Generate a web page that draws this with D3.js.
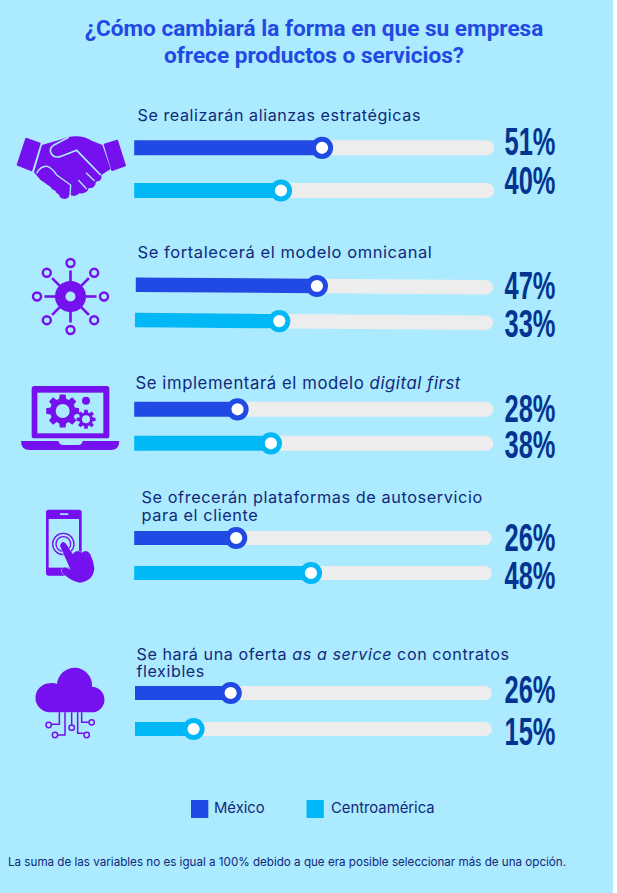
<!DOCTYPE html>
<html><head><meta charset="utf-8">
<script src="https://cdn.jsdelivr.net/npm/d3@7"></script>
<style>html,body{margin:0;padding:0;background:#fff;overflow:hidden}svg{display:block}</style>
</head><body><div id="chart"></div>
<script>
// ---- data ----
const titleLines = ["¿Cómo cambiará la forma en que su empresa", "ofrece productos o servicios?"];
const categories = [
  [["Se realizarán alianzas estratégicas", false]],
  [["Se fortalecerá el modelo omnicanal", false]],
  [["Se implementará el modelo ", false], ["digital first", true]],
  [["Se ofrecerán plataformas de autoservicio", false], ["\npara el cliente", false]],
  [["Se hará una oferta ", false], ["as a service", true], [" con contratos", false], ["\nflexibles", false]]
];
const seriesNames = ["México", "Centroamérica"];
const mexicoLabels = [51, 47, 28, 26, 26];
const centroLabels = [40, 33, 38, 48, 15];
// slider lengths as drawn in the picture (percent of the track)
const mexicoDrawn = [52.2, 50.7, 28.8, 28.5, 26.8];
const centroDrawn = [40.8, 40.3, 38.1, 49.4, 16.4];
const footnote = "La suma de las variables no es igual a 100% debido a que era posible seleccionar más de una opción.";

// ---- style and layout ----
const W = 617, H = 893, panelW = 613;
const BG = "#ABEAFF", BLUE = "#2149E3", CYAN = "#00B8F5", TRACK = "#EDEDED",
      PURPLE = "#7510EE", INK = "#10297A", PCT = "#033491";
const colors = [BLUE, CYAN];
const rows = [
  {x0:[134.2,134.2],x1:[494,494],yL:[147.8,190.5],yR:[147.8,190.5],ly:[120.5],lx:137.5,py:[155,194],h:15,fs:16.1},
  {x0:[135.8,135],x1:[493,493],yL:[284.7,320],yR:[287.3,322.7],ly:[258.3],lx:137.5,py:[299.3,337.3],h:14.5,fs:16.5},
  {x0:[134.2,134.2],x1:[493,493],yL:[409.3,443.3],yR:[409.3,443.3],ly:[389.3],lx:135.5,py:[422.3,457.7],h:15,fs:16.7},
  {x0:[134.2,134.2],x1:[492,492],yL:[538,573],yR:[538,573],ly:[502.7,520.7],lx:141.5,py:[551,589],h:14,fs:16.3},
  {x0:[135,135],x1:[492,492],yL:[693,729],yR:[693,729],ly:[660,676.7],lx:136.5,py:[702.7,745],h:14,fs:16.1}
];

const svg = d3.select("#chart").append("svg").attr("width", W).attr("height", H);
svg.append("rect").attr("width", panelW).attr("height", H).attr("fill", BG);

// title
svg.append("g").selectAll("text").data(titleLines).join("text")
  .attr("x", 314).attr("y", (d,i)=>[36,62.7][i]).attr("text-anchor","middle")
  .attr("font-family","Roboto").attr("font-weight",700).attr("font-size",22.6)
  .attr("fill",BLUE).text(d=>d);

// rows
rows.forEach((r,i)=>{
  const g = svg.append("g").attr("class","row");
  // category label
  const lab = g.append("text").attr("font-family","Inter").attr("font-size",r.fs)
     .attr("letter-spacing",0.58).attr("fill",INK).style("white-space","pre");
  let line = 0, ts = null;
  categories[i].forEach(([t,it])=>{
    const brk = t.startsWith("\n");
    if (brk) line++;
    const s = lab.append("tspan").attr("font-style",it?"italic":"normal").text(t.replace("\n",""));
    if (brk || ts===null) s.attr("x",r.lx).attr("y",r.ly[line]);
    ts = s;
  });
  [[mexicoDrawn,mexicoLabels],[centroDrawn,centroLabels]].forEach(([drawn,labels],k)=>{
    const x = d3.scaleLinear().domain([0,100]).range([r.x0[k],r.x1[k]]);
    const y = d3.scaleLinear().domain([0,100]).range([r.yL[k],r.yR[k]]);
    const v = drawn[i];
    // track
    g.append("line").attr("x1",x(4)).attr("x2",x(98)).attr("y1",y(4)).attr("y2",y(98))
      .attr("stroke",TRACK).attr("stroke-width",r.h).attr("stroke-linecap","round");
    // fill
    g.append("line").attr("x1",x(0)).attr("x2",x(v)).attr("y1",y(0)).attr("y2",y(v))
      .attr("stroke",colors[k]).attr("stroke-width",r.h);
    // knob
    g.append("circle").attr("cx",x(v)).attr("cy",y(v)).attr("r",8.6)
      .attr("fill","#fff").attr("stroke",colors[k]).attr("stroke-width",5);
    // value
    g.append("text").attr("transform",`translate(504.5,${r.py[k]}) scale(0.67,1)`)
      .attr("font-family","Liberation Sans").attr("font-weight",700).attr("font-size",38)
      .attr("fill",PCT).text(labels[i]+"%");
  });
});

// ---- icons (decorative) ----
const icons = svg.append("g").attr("fill",PURPLE);
// handshake
(function(){
  const g = icons.append("g").attr("transform","translate(10,125) scale(0.3333)");
  g.append("path").attr("d","M48 40 L90 55 L65 137 L22 120 Z").attr("stroke",PURPLE).attr("stroke-width",4).attr("stroke-linejoin","round");
  g.append("path").attr("d","M283 58 L322 46 L346 122 L306 136 Z").attr("stroke",PURPLE).attr("stroke-width",4).attr("stroke-linejoin","round");
  g.append("path").attr("d","M96 60 L150 44 Q205 22 245 47 L277 60 L302 132 L274 150 Q278 168 258 170 Q256 190 236 190 Q230 208 208 205 Q194 220 178 208 L165 215 L92 165 L72 142 Z");
  [[103,150],[122,165],[138,180],[152,192],[163,205]].forEach(c=>g.append("circle").attr("cx",c[0]).attr("cy",c[1]).attr("r",17));
  g.append("path").attr("d","M176 37 L132 60 Q118 68 122 82 Q130 100 150 95 L200 76 L272 150")
    .attr("fill","none").attr("stroke",BG).attr("stroke-width",5);
  g.append("path").attr("d","M80 145 Q92 122 112 124 Q128 130 140 150 L182 180 L180 215 M205 165 L230 192 M228 143 L254 168")
    .attr("fill","none").attr("stroke",BG).attr("stroke-width",4);
})();
// network
(function(){
  const g = icons.append("g").attr("transform","translate(70.5,296.5)");
  d3.range(8).forEach(a=>{
    const t = a*Math.PI/4, c=Math.cos(t), s=Math.sin(t);
    g.append("line").attr("x1",14*c).attr("y1",14*s).attr("x2",26*c).attr("y2",26*s)
      .attr("stroke",PURPLE).attr("stroke-width",2.6);
    g.append("circle").attr("cx",33.5*c).attr("cy",33.5*s).attr("r",4).attr("fill",BG)
      .attr("stroke",PURPLE).attr("stroke-width",2.4);
  });
  g.append("circle").attr("r",15.5);
  g.append("circle").attr("r",5).attr("fill",BG);
})();
// gear helper
function gear(g,cx,cy,R,r,hole,n){
  const pts=[];
  for(let i=0;i<n;i++){
    const a=i*2*Math.PI/n, w=Math.PI/n*0.55;
    [[r,a-w*1.3],[R,a-w*0.8],[R,a+w*0.8],[r,a+w*1.3]].forEach(p=>pts.push([cx+p[0]*Math.cos(p[1]),cy+p[0]*Math.sin(p[1])]));
  }
  g.append("path").attr("d",d3.line()(pts)+"Z");
  g.append("circle").attr("cx",cx).attr("cy",cy).attr("r",hole).attr("fill",BG);
}
// laptop
(function(){
  const g = icons.append("g").attr("transform","translate(20,380) scale(0.3333)");
  g.append("rect").attr("x",35).attr("y",18).attr("width",233).attr("height",157).attr("rx",8);
  g.append("rect").attr("x",52).attr("y",38).attr("width",198).attr("height",122).attr("fill",BG);
  g.append("path").attr("d","M3 183 H115 Q118 195 130 195 H175 Q186 195 188 183 H298 Q298 210 272 210 H30 Q3 210 3 183 Z");
  gear(g,128,93,50,38,21,8);
  gear(g,198,118,29,21,12,8);
  g.append("circle").attr("cx",198).attr("cy",62).attr("r",12);
})();
// phone
(function(){
  const g = icons.append("g").attr("transform","translate(30,505) scale(0.3333)");
  g.append("rect").attr("x",48).attr("y",14).attr("width",107).attr("height",198).attr("rx",8);
  g.append("rect").attr("x",56).attr("y",42).attr("width",91).attr("height",146).attr("fill",BG);
  g.append("rect").attr("x",90).attr("y",25).attr("width",25).attr("height",5).attr("fill",BG);
  [32,22].forEach(r=>g.append("circle").attr("cx",100).attr("cy",117).attr("r",r).attr("fill","none").attr("stroke",PURPLE).attr("stroke-width",4));
  g.append("circle").attr("cx",100).attr("cy",117).attr("r",13).attr("fill",BG);
  g.append("path").attr("d","M90 122 Q96 103 108 116 L128 147 Q140 132 155 143 Q170 132 180 146 Q190 165 193 190 Q190 228 150 233 Q128 232 98 205 Q88 192 105 187 L122 194 Z")
    .attr("stroke",BG).attr("stroke-width",3).attr("paint-order","stroke");
})();
// cloud
(function(){
  const g = icons.append("g").attr("transform","translate(26,670) scale(0.3333)");
  g.append("path").attr("d","M72 127 A41 41 0 0 1 72 40 Q85 38 93 42 A52 52 0 0 1 198 50 A39 39 0 0 1 205 127 Z");
  const w = g.append("g").attr("fill","none").attr("stroke",PURPLE).attr("stroke-width",4.5);
  w.append("path").attr("d","M100 127 V163 H76");
  w.append("path").attr("d","M117 127 V195 H96");
  w.append("path").attr("d","M137 127 V164");
  w.append("path").attr("d","M155 127 V190 H173");
  w.append("path").attr("d","M167 127 V157 H188");
  [[68,165],[87,195],[137,173],[182,195],[197,157]].forEach(c=>w.append("circle").attr("cx",c[0]).attr("cy",c[1]).attr("r",8).attr("fill",BG));
})();

// legend
const legend = svg.append("g");
[[191,214],[306.5,331]].forEach((p,i)=>{
  legend.append("rect").attr("x",p[0]).attr("y",800).attr("width",17.3).attr("height",18).attr("fill",colors[i]);
  legend.append("text").attr("x",p[1]).attr("y",813).attr("font-family","Inter").attr("font-size",14.8)
    .attr("fill",INK).text(seriesNames[i]);
});
// footnote
svg.append("text").attr("x",8).attr("y",865.7).attr("font-family","Inter").attr("font-size",11.64)
  .attr("fill",INK).text(footnote);
</script></body></html>
